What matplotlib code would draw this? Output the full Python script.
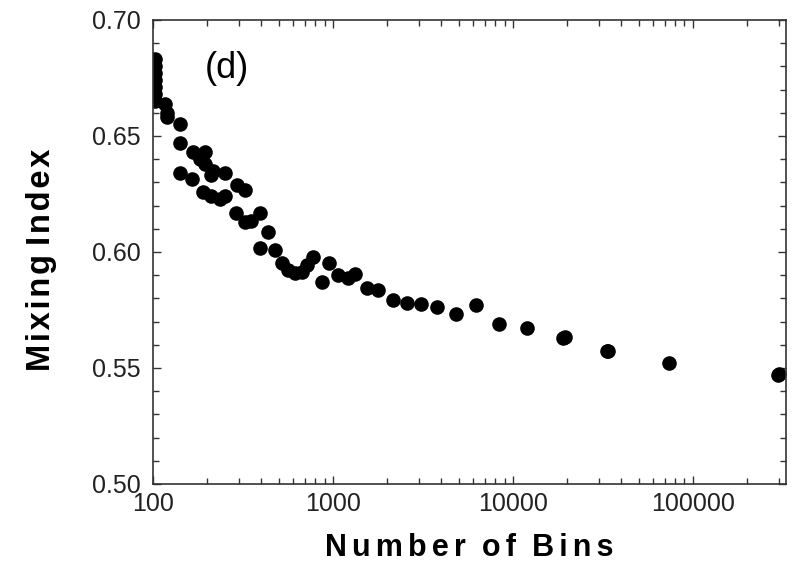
import matplotlib
matplotlib.use("Agg")
import matplotlib.pyplot as plt
from matplotlib.ticker import FixedLocator, FuncFormatter, LogLocator, MultipleLocator, NullFormatter

# Mixing index as a function of the number of bins used in the analysis
n_bins = [
    102, 102, 102, 102, 102, 102, 102,
    117, 120, 119, 141, 141, 141, 167, 182, 194, 194, 215, 251, 210, 165,
    293, 324, 190, 210, 251, 235, 289, 324, 350, 393, 435, 393, 476,
    521, 562, 615, 672, 717, 774, 869, 950, 1066, 1211, 1325, 1545, 1778,
    2154, 2576, 3081, 3781, 4822, 6230, 8350, 11960, 18950, 19500,
    33270, 34000, 73560, 296600, 303000,
]
mixing_index = [
    0.683, 0.680, 0.677, 0.674, 0.671, 0.668, 0.665,
    0.664, 0.660, 0.658, 0.655, 0.647, 0.634, 0.643, 0.640, 0.643, 0.638, 0.635, 0.634, 0.633, 0.6315,
    0.629, 0.6267, 0.626, 0.624, 0.624, 0.623, 0.617, 0.613, 0.6135, 0.617, 0.6086, 0.6017, 0.6009,
    0.5953, 0.5922, 0.5909, 0.5914, 0.5944, 0.5978, 0.5871, 0.5953, 0.5901, 0.5888, 0.5905, 0.5845, 0.5836,
    0.5793, 0.578, 0.5776, 0.5763, 0.5733, 0.5772, 0.569, 0.5672, 0.5629, 0.5632,
    0.5573, 0.5575, 0.5522, 0.547, 0.5475,
]

x_ticks = [100, 1000, 10000, 100000]
x_tick_labels = ["100", "1000", "10000", "100000"]
x_range = (100, 330000)
y_range = (0.50, 0.70)
panel_label = "(d)"
x_title = "Number of Bins"
y_title = "Mixing Index"

sans = ["Liberation Sans", "DejaVu Sans"]
plt.rcParams["font.family"] = sans


def letter_spaced(title, gap, word_gap):
    """Widen the tracking inside each word and between words."""
    return word_gap.join(gap.join(word) for word in title.split(" "))


fig = plt.figure(figsize=(7.92, 5.66), dpi=100)
ax = fig.add_axes([0.1932, 0.1449, 0.7992, 0.8198])

ax.plot(n_bins, mixing_index, linestyle="none", marker="o",
        markersize=10.5, color="black", markeredgewidth=0)

ax.set_xscale("log")
ax.set_xlim(*x_range)
ax.set_ylim(*y_range)

ax.xaxis.set_major_locator(FixedLocator(x_ticks))
ax.xaxis.set_major_formatter(FuncFormatter(
    lambda v, pos: x_tick_labels[x_ticks.index(int(round(v)))] if int(round(v)) in x_ticks else ""))
ax.xaxis.set_minor_locator(LogLocator(base=10, subs=range(2, 10), numticks=20))
ax.xaxis.set_minor_formatter(NullFormatter())

ax.yaxis.set_major_locator(MultipleLocator(0.05))
ax.yaxis.set_minor_locator(MultipleLocator(0.01))
ax.yaxis.set_major_formatter(FuncFormatter(lambda v, pos: f"{v:.2f}"))

ax.tick_params(which="both", direction="in", top=True, right=True,
               color="#333333", width=1.0)
ax.tick_params(which="major", length=6)
ax.tick_params(which="minor", length=4)
ax.tick_params(axis="x", which="major", labelsize=18, labelcolor="#222222", pad=6)
ax.tick_params(axis="y", which="major", labelsize=18, labelcolor="#222222", pad=9)

for spine in ax.spines.values():
    spine.set_color("#333333")
    spine.set_linewidth(1.2)

ax.set_xlabel(letter_spaced(x_title, "\u2006", " \u2005"), fontsize=22,
              fontweight="bold", family=sans)
ax.set_ylabel(letter_spaced(y_title, "\u200a", " "), fontsize=23.5,
              fontweight="bold", family=sans)
ax.xaxis.set_label_coords(0.5, -0.105)
ax.yaxis.set_label_coords(-0.152, 0.483)

ax.text(0.117, 0.895, panel_label, transform=ax.transAxes, fontsize=26,
        ha="center", va="center", color="black")

fig.savefig("out.png", dpi=100)
